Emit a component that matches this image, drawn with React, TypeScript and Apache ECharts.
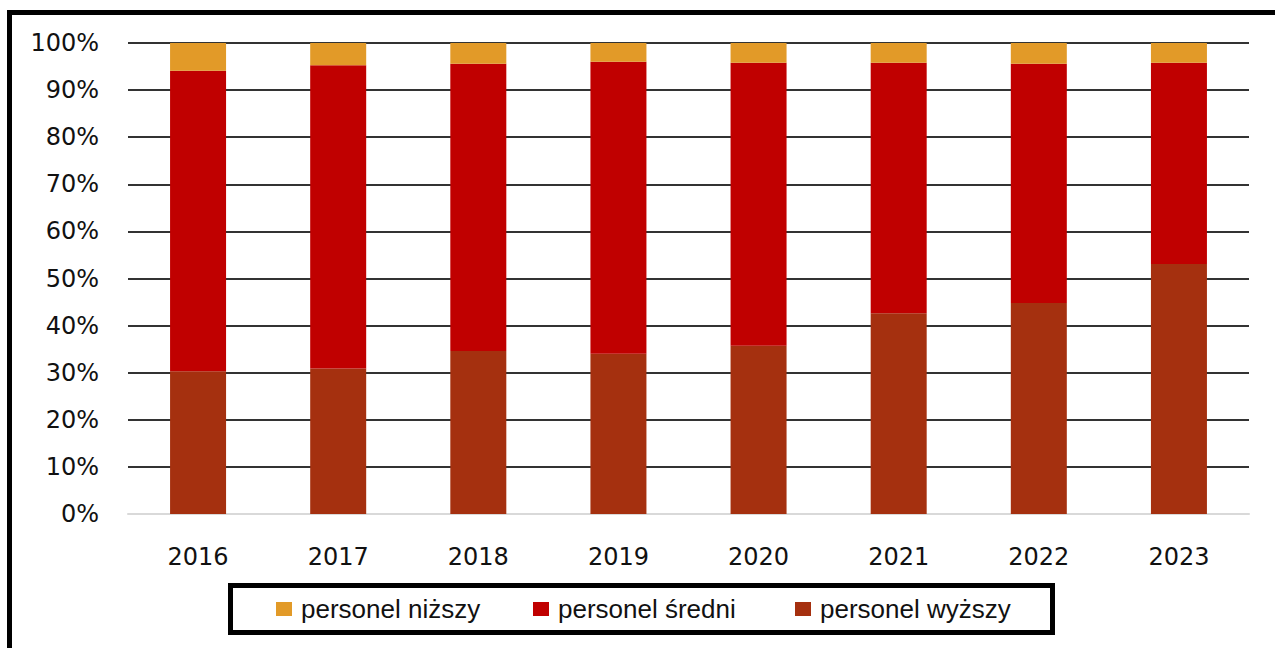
import React, { useEffect, useRef } from "react";
import * as echarts from "echarts";

const years = ["2016", "2017", "2018", "2019", "2020", "2021", "2022", "2023"];
const wyzszy = [30.3, 30.9, 34.6, 34.0, 35.7, 42.6, 44.8, 53.1];
const sredni = [63.8, 64.4, 61.0, 62.0, 60.1, 53.2, 50.8, 42.7];
const nizszy = [5.9, 4.7, 4.4, 4.0, 4.2, 4.2, 4.4, 4.2];
const yTicks = [0, 10, 20, 30, 40, 50, 60, 70, 80, 90, 100];
const legendNames = ["personel niższy", "personel średni", "personel wyższy"];

export default function App() {
  const ref = useRef<HTMLDivElement>(null);
  useEffect(() => {
    const chart = echarts.init(ref.current!, null, { renderer: "svg" });
    const axisFont = { fontFamily: "DejaVu Sans", fontSize: 24, color: "#111" };
    const legendLefts = [276, 533, 795];
    chart.setOption({
      animation: false,
      backgroundColor: "#fff",
      grid: { left: 128, right: 26, top: 43, bottom: 134 },
      legend: legendNames.map((n, i) => ({
        data: [n],
        left: legendLefts[i],
        top: 596,
        padding: 0,
        itemWidth: 16,
        itemHeight: 14,
        itemGap: 5,
        icon: "rect",
        textStyle: { fontFamily: "Liberation Sans", fontSize: 26, color: "#111", padding: [0, 0, 0, 4] },
      })),
      xAxis: {
        type: "category",
        data: years,
        axisLine: { lineStyle: { color: "#d9d9d9", width: 2 } },
        axisTick: { show: false },
        axisLabel: { ...axisFont, margin: 31 },
      },
      yAxis: {
        type: "value",
        min: 0,
        max: 100,
        interval: 10,
        axisLabel: { ...axisFont, margin: 29, formatter: (v: number) => (yTicks.includes(v) ? v + "%" : "") },
        splitLine: { lineStyle: { color: "#333", width: 2 } },
        axisLine: { show: false },
        axisTick: { show: false },
      },
      series: [
        { name: "personel wyższy", type: "bar", stack: "a", data: wyzszy, barWidth: 56, itemStyle: { color: "#A5300F" } },
        { name: "personel średni", type: "bar", stack: "a", data: sredni, barWidth: 56, itemStyle: { color: "#C00000" } },
        { name: "personel niższy", type: "bar", stack: "a", data: nizszy, barWidth: 56, itemStyle: { color: "#E29A28" } },
      ],
      graphic: [
        {
          type: "rect",
          shape: { x: 9.5, y: 12.5, width: 1300, height: 700 },
          style: { fill: "none", stroke: "#000", lineWidth: 5 },
          silent: true,
        },
        {
          type: "rect",
          shape: { x: 230.5, y: 585.5, width: 822, height: 47 },
          style: { fill: "none", stroke: "#000", lineWidth: 5 },
          silent: true,
        },
      ],
    });
    return () => chart.dispose();
  }, []);
  return <div ref={ref} style={{ position: "fixed", left: 0, top: 0, width: 1275, height: 648 }} />;
}
